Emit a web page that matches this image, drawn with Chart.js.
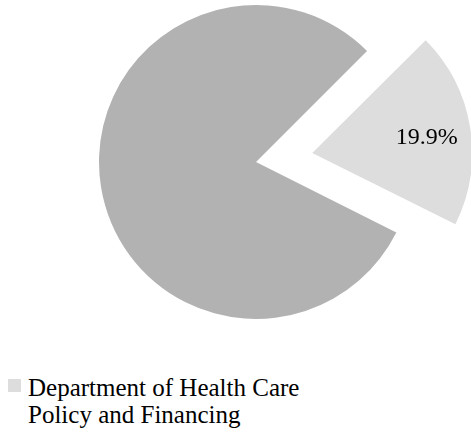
<!DOCTYPE html>
<html>
<head>
<meta charset="utf-8">
<script src="https://cdn.jsdelivr.net/npm/chart.js@4.4.1/dist/chart.umd.min.js"></script>
<style>
  body { margin: 0; background: #fff; }
  #wrap { position: relative; width: 471px; height: 433px; }
  #pie { position: absolute; left: 0; top: 0; }
  #legend {
    position: absolute; left: 0; top: 374px;
    font-family: "Liberation Serif", "Times New Roman", serif;
    font-size: 25px; line-height: 27px; color: #000;
  }
  #legend ul { list-style: none; margin: 0; padding: 0; }
  #legend li { position: relative; padding-left: 28px; width: 290px; }
  #legend .box { position: absolute; left: 8px; top: 5px; width: 13px; height: 13px; }
</style>
</head>
<body>
<div id="wrap">
  <canvas id="pie" width="471" height="340"></canvas>
  <div id="legend"></div>
</div>
<script>
// slices, in drawing order (clockwise from the rotation point)
const labels = ['Department of Health Care Policy and Financing', 'All Other'];
const values = [19.9, 80.1];
const colors = ['#dddddd', '#b2b2b2'];
const offsets = [228, 0]; // chart.js moves a slice by about offset/4
const showPct = [true, false];
const inLegend = [true, false];

// percentage text drawn on the slices
const sliceLabels = {
  id: 'sliceLabels',
  afterDatasetsDraw(chart) {
    const ctx = chart.ctx;
    const meta = chart.getDatasetMeta(0);
    const total = values.reduce((a, b) => a + b, 0);
    meta.data.forEach((arc, i) => {
      if (!showPct[i]) return;
      const p = arc.getProps(['x', 'y', 'startAngle', 'endAngle', 'outerRadius', 'circumference'], true);
      const mid = (p.startAngle + p.endAngle) / 2;
      // same shift the arc element uses when it draws an offset slice
      const fix = 1 - Math.sin(Math.min(Math.PI, p.circumference));
      const shift = (arc.options.offset / 4) * (1 + fix);
      const dist = shift + p.outerRadius * 0.72;
      ctx.save();
      ctx.font = '24px "Liberation Serif", "Times New Roman", serif';
      ctx.fillStyle = '#000';
      ctx.textAlign = 'center';
      ctx.textBaseline = 'middle';
      ctx.fillText((values[i] / total * 100).toFixed(1) + '%',
        p.x + Math.cos(mid) * dist, p.y + Math.sin(mid) * dist + 3);
      ctx.restore();
    });
  }
};

// legend built as html so the long label can wrap
const htmlLegend = {
  id: 'htmlLegend',
  afterUpdate(chart) {
    const box = document.getElementById('legend');
    const items = chart.options.plugins.legend.labels.generateLabels(chart);
    const ul = document.createElement('ul');
    items.forEach((item, i) => {
      if (!inLegend[i]) return;
      const li = document.createElement('li');
      const sw = document.createElement('span');
      sw.className = 'box';
      sw.style.background = item.fillStyle;
      li.appendChild(sw);
      li.appendChild(document.createTextNode(item.text));
      ul.appendChild(li);
    });
    box.innerHTML = '';
    box.appendChild(ul);
  }
};

new Chart(document.getElementById('pie'), {
  type: 'pie',
  data: {
    labels: labels,
    datasets: [{
      data: values,
      backgroundColor: colors,
      borderWidth: 0,
      offset: offsets,
      hoverOffset: 0
    }]
  },
  options: {
    responsive: false,
    animation: false,
    rotation: 45,
    radius: 157,
    layout: { padding: { left: 41, top: 5, bottom: 21, right: 0 } },
    plugins: {
      legend: { display: false },
      tooltip: { enabled: false }
    }
  },
  plugins: [sliceLabels, htmlLegend]
});
</script>
</body>
</html>
